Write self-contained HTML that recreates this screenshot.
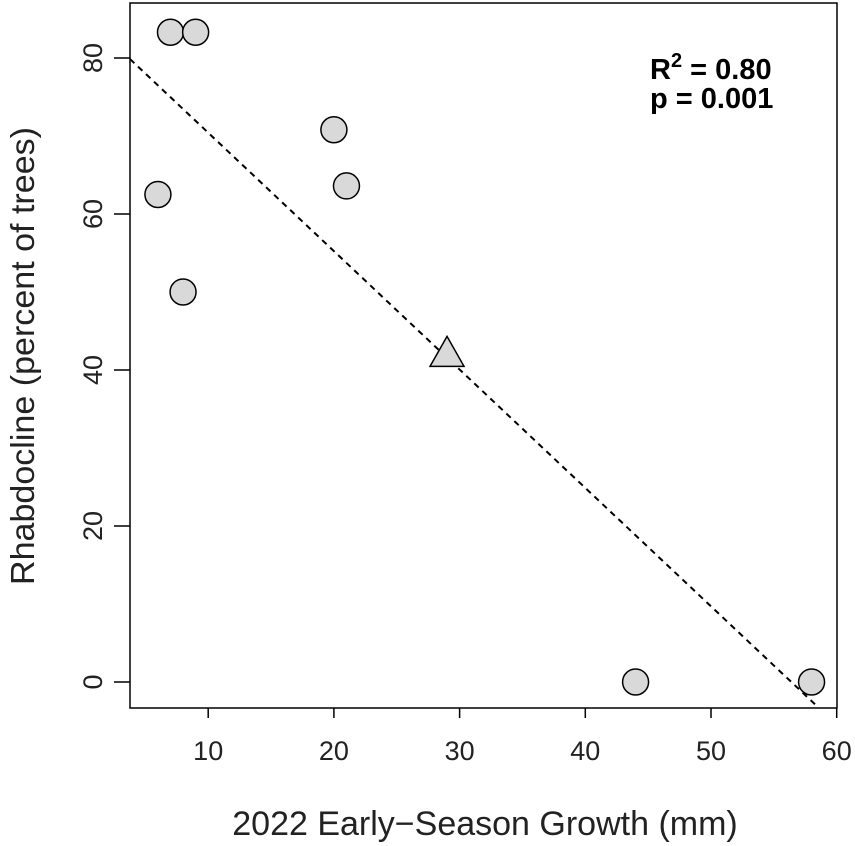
<!DOCTYPE html>
<html><head><meta charset="utf-8"><style>
body{margin:0;background:#fff;}
svg{display:block;font-family:"Liberation Sans",sans-serif;}
</style></head><body>
<svg id="chart" width="855" height="846"></svg>
<script>
const xValues=[6,7,9,8,20,21,44,58];
const yValues=[62.5,83.3,83.3,50,70.8,63.6,0,0];
const triX=[29];
const triY=[42];
const xTicks=[10,20,30,40,50,60];
const yTicks=[0,20,40,60,80];
const fitIntercept=85.6, fitSlope=-1.518;
const NS="http://www.w3.org/2000/svg";
const svg=document.getElementById('chart');
const L=130,R=837,T=3,B=708;
const sx=v=>82.5+v*12.57;
const sy=v=>682-v*7.8;
function mk(tag,attrs,parent){const e=document.createElementNS(NS,tag);for(const k in attrs)e.setAttribute(k,attrs[k]);(parent||svg).appendChild(e);return e;}
const x0=(L-82.5)/12.57;
let x1=(fitIntercept-((682-705)/7.8))/(-fitSlope);
const ln=mk('line',{x1:sx(x0),y1:sy(fitIntercept+fitSlope*x0),x2:sx(x1),y2:sy(fitIntercept+fitSlope*x1),stroke:'#000','stroke-width':2,'stroke-dasharray':'6,5'});


const box=mk('rect',{x:L,y:T,width:R-L,height:B-T,fill:'none',stroke:'#000','stroke-width':1.5});


xTicks.forEach(t=>{
  mk('line',{x1:sx(t),x2:sx(t),y1:B,y2:B+10,stroke:'#000','stroke-width':1.5});
  const tx=mk('text',{x:sx(t),y:B+52,'text-anchor':'middle','font-size':27,fill:'#222'});
  tx.textContent=t;
  
  
});
yTicks.forEach(t=>{
  mk('line',{x1:L-16,x2:L,y1:sy(t),y2:sy(t),stroke:'#000','stroke-width':1.5});
  const tx=mk('text',{x:0,y:0,transform:`translate(${L-28},${sy(t)}) rotate(-90)`,'text-anchor':'middle','font-size':27,fill:'#222'});
  tx.textContent=t;
  
  
});
xValues.forEach((v,i)=>{
  const c=mk('circle',{cx:sx(v),cy:sy(yValues[i]),r:13,fill:'#d9d9d9',stroke:'#000','stroke-width':1.5});
  
  
});
triX.forEach((v,i)=>{
  const cx=sx(v),cy=sy(triY[i]);
  const p=mk('polygon',{points:`${cx},${cy-18} ${cx-17},${cy+12} ${cx+17},${cy+12}`,fill:'#d9d9d9',stroke:'#000','stroke-width':1.5});
  
  
});
</script>
<svg style="position:absolute;left:0;top:0" width="855" height="846">
<text x="485" y="835" text-anchor="middle" font-size="34" fill="#222" font-family="Liberation Sans,sans-serif">2022 Early−Season Growth (mm)</text>
<text transform="translate(34,356) rotate(-90)" text-anchor="middle" font-size="33" textLength="458" lengthAdjust="spacingAndGlyphs" fill="#222" font-family="Liberation Sans,sans-serif">Rhabdocline (percent of trees)</text>
<text x="650" y="79" font-size="29" font-weight="bold" font-family="Liberation Sans,sans-serif">R<tspan dy="-12" font-size="20">2</tspan><tspan dy="12"> = 0.80</tspan></text>
<text x="650" y="108" font-size="29" font-weight="bold" font-family="Liberation Sans,sans-serif">p = 0.001</text>
</svg>
</body></html>
